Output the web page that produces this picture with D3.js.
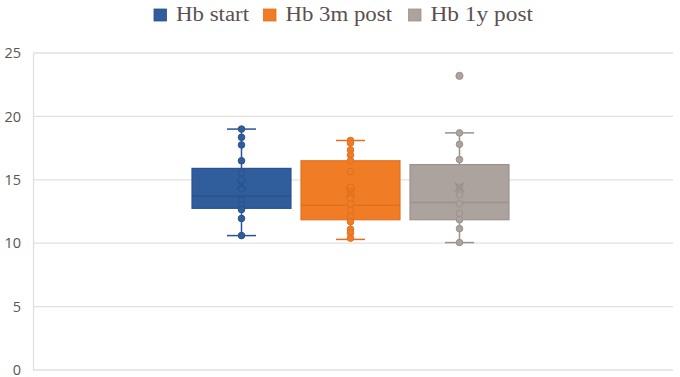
<!DOCTYPE html>
<html><head><meta charset="utf-8">
<script src="https://cdn.jsdelivr.net/npm/d3@7"></script>
<style>html,body{margin:0;padding:0;background:#fff;}svg{display:block;}</style>
</head><body>
<svg id="c" width="680" height="377"></svg>
<script>
// ---- data ----
const seriesNames = ["Hb start", "Hb 3m post", "Hb 1y post"];
const whiskerLow  = [10.6, 10.3, 10.05];
const q1          = [12.75, 11.85, 11.85];
const median      = [13.7, 13.0, 13.2];
const q3          = [15.9, 16.5, 16.2];
const whiskerHigh = [19.0, 18.1, 18.7];
const means       = [14.6, 14.0, 14.4];
const outliers    = [[], [], [23.2]];
const pointsStart = [19.0, 18.35, 17.75, 16.5, 15.55, 15.0, 14.3, 13.4, 13.0, 12.65, 11.95, 10.6];
const points3m    = [18.1, 17.9, 17.35, 16.95, 16.5, 15.65, 14.4, 14.05, 13.5, 13.1, 12.6, 12.1, 11.7, 11.1, 10.8, 10.4];
const points1y    = [18.7, 17.8, 16.6, 14.4, 13.8, 13.1, 12.35, 11.85, 11.15, 10.05];
const yTicks      = [0, 5, 10, 15, 20, 25];

const pointSets = [pointsStart, points3m, points1y];

// ---- styles ----
const fills   = ["#305d9c", "#f07d26", "#aca29e"];
const strokes = ["#2a5290", "#e07020", "#9c928d"];

const svg = d3.select("#c");
const mLeft = 33, mRight = 673, mTop = 53, mBottom = 370;

const y = d3.scaleLinear().domain([0, 25]).range([mBottom, mTop]);
const xCat = d3.scaleBand().domain(["Hb"]).range([mLeft, mRight]).paddingOuter(0.4786).paddingInner(0).align(0.492);
const xS = d3.scaleBand().domain(seriesNames).range([xCat("Hb"), xCat("Hb") + xCat.bandwidth()]).paddingInner(0.092).paddingOuter(0.046);

// gridlines
svg.append("g").selectAll("line").data(yTicks.filter(d => d > 0)).join("line")
  .attr("x1", mLeft).attr("x2", mRight)
  .attr("y1", d => y(d)).attr("y2", d => y(d))
  .attr("stroke", "#e3dfdf").attr("stroke-width", 1.3);

// axes
const yAxis = d3.axisLeft(y).tickValues(yTicks).tickSize(0).tickPadding(12);
const gy = svg.append("g").attr("transform", `translate(${mLeft},0)`).call(yAxis);
gy.select(".domain").attr("stroke", "#e3dfdf").attr("stroke-width", 1.3);
gy.selectAll("text").attr("font-family", "'Open Sans', sans-serif").attr("font-size", 14.5).attr("fill", "#5a5555");
svg.append("line").attr("x1", mLeft).attr("x2", mRight).attr("y1", mBottom).attr("y2", mBottom)
  .attr("stroke", "#e3dfdf").attr("stroke-width", 1.3);

// boxes
seriesNames.forEach((s, i) => {
  const g = svg.append("g");
  const x0 = xS(s), w = xS.bandwidth(), cx = x0 + w / 2, capW = 29;
  g.append("line").attr("x1", cx).attr("x2", cx).attr("y1", y(q3[i])).attr("y2", y(whiskerHigh[i])).attr("stroke", strokes[i]).attr("stroke-width", 1.5);
  g.append("line").attr("x1", cx).attr("x2", cx).attr("y1", y(q1[i])).attr("y2", y(whiskerLow[i])).attr("stroke", strokes[i]).attr("stroke-width", 1.5);
  [whiskerHigh[i], whiskerLow[i]].forEach(v => {
    g.append("line").attr("x1", cx - capW / 2).attr("x2", cx + capW / 2).attr("y1", y(v)).attr("y2", y(v)).attr("stroke", strokes[i]).attr("stroke-width", 1.5);
  });
  g.append("rect").attr("x", x0).attr("width", w).attr("y", y(q3[i])).attr("height", y(q1[i]) - y(q3[i]))
    .attr("fill", fills[i]).attr("stroke", strokes[i]).attr("stroke-width", 1.2);
  g.append("line").attr("x1", x0).attr("x2", x0 + w).attr("y1", y(median[i])).attr("y2", y(median[i])).attr("stroke", strokes[i]).attr("stroke-width", 1.5);
  g.selectAll("circle.p").data(pointSets[i]).join("circle").attr("class", "p")
    .attr("cx", cx).attr("cy", d => y(d)).attr("r", 3.3)
    .attr("fill", fills[i]).attr("stroke", strokes[i]).attr("stroke-width", 1);
  g.selectAll("circle.o").data(outliers[i]).join("circle").attr("class", "o")
    .attr("cx", cx).attr("cy", d => y(d)).attr("r", 3.6)
    .attr("fill", fills[i]).attr("stroke", strokes[i]).attr("stroke-width", 1);
  const my = y(means[i]), k = 4.5;
  g.append("path").attr("d", `M${cx - k},${my - k}L${cx + k},${my + k}M${cx - k},${my + k}L${cx + k},${my - k}`)
    .attr("stroke", strokes[i]).attr("stroke-width", 1.8).attr("fill", "none");
});

// legend
const legendX = [154, 263.5, 408.5];
const legendW = [73, 106.5, 102.5];
const lg = svg.append("g");
seriesNames.forEach((s, i) => {
  lg.append("rect").attr("x", legendX[i]).attr("y", 9).attr("width", 12.5).attr("height", 12)
    .attr("fill", fills[i]).attr("stroke", strokes[i]).attr("stroke-width", 0.8);
  lg.append("text").attr("x", legendX[i] + 22).attr("y", 20.7).text(s)
    .attr("font-family", "'Liberation Serif', 'Times New Roman', serif").attr("font-size", 20)
    .attr("textLength", legendW[i]).attr("lengthAdjust", "spacingAndGlyphs")
    .attr("fill", "#5a5050");
});
</script>
</body></html>
